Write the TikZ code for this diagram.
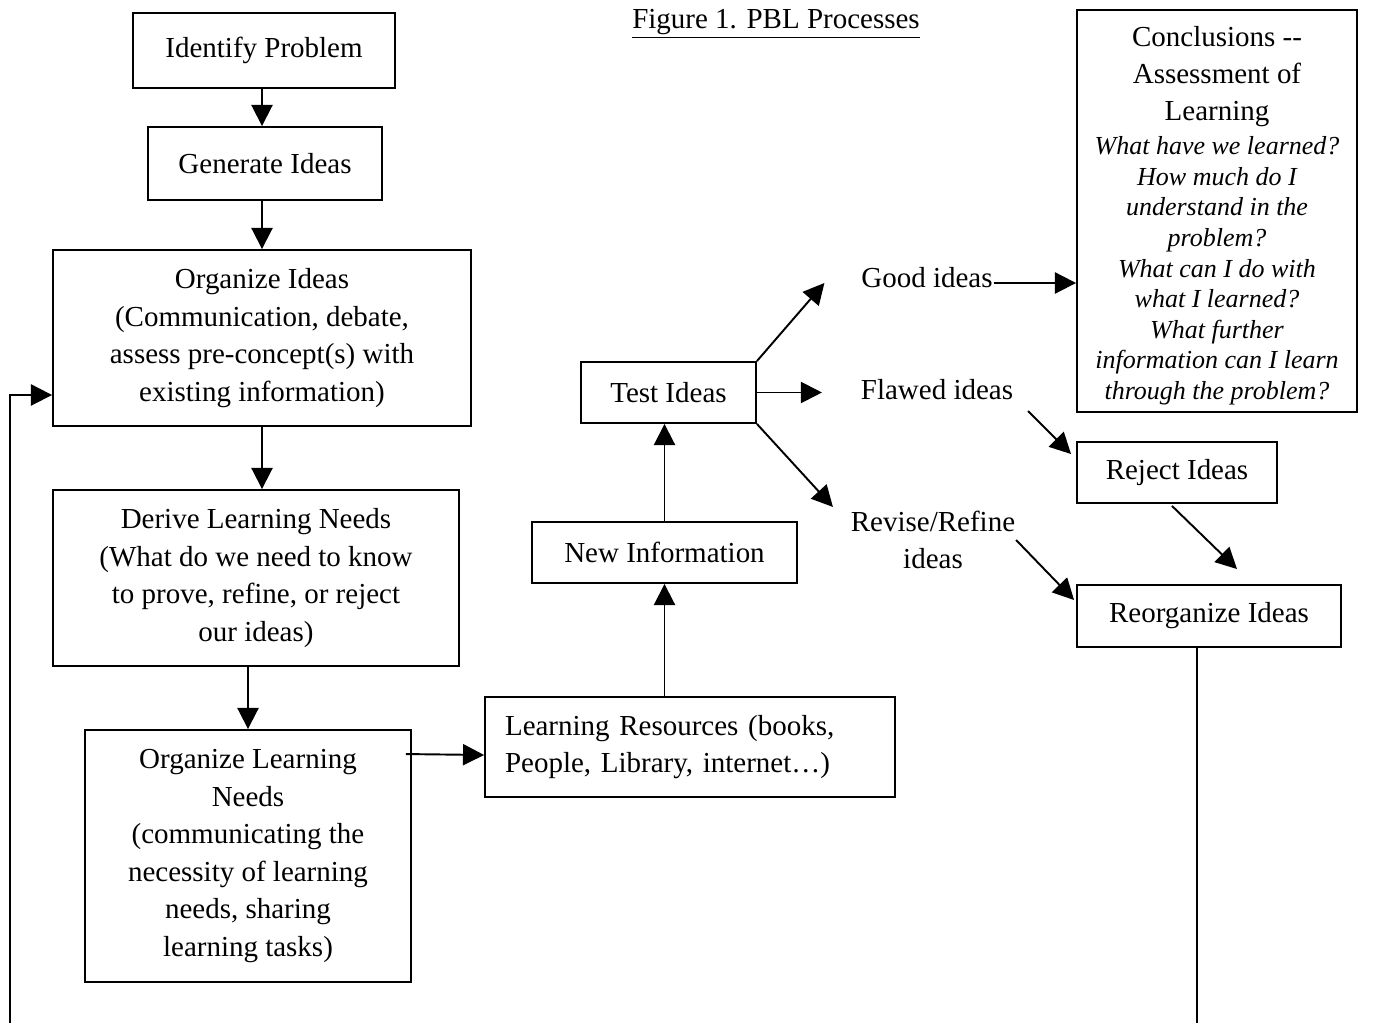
\documentclass[tikz,border=0pt]{standalone}
\usepackage{fontspec}
\setmainfont{Liberation Serif}
\usetikzlibrary{arrows.meta}
\newcommand\qline{\itshape\fontsize{14.8}{17.4}\selectfont}

\begin{document}
\begin{tikzpicture}[x=0.02cm,y=-0.02cm,line width=1.1pt,
  box/.style={draw,line width=1.1pt,align=center,inner sep=0pt,font=\fontsize{16.5}{21.3}\selectfont},
  lbl/.style={align=center,inner sep=0pt,font=\fontsize{16.5}{21.3}\selectfont},
  arr/.style={-{Triangle[length=12pt,width=12pt]}}]
\useasboundingbox (0,0) rectangle (1373,1023);
%title
\node[lbl] (title) at (776,24) {\underline{Figure 1. PBL Processes}};
%left column
\node[box,minimum width=5.24cm,minimum height=1.5cm] (ident) at (264,50.5) {Identify Problem};
\node[box,minimum width=4.68cm,minimum height=1.46cm] (gen) at (265,163.5) {Generate Ideas};
\node[box,minimum width=8.36cm,minimum height=3.52cm] (orgideas) at (262,338)
  {Organize Ideas\\ (Communication, debate,\\ assess pre-concept(s) with\\ existing information)};
\node[box,minimum width=8.12cm,minimum height=3.52cm] (derive) at (256,578)
  {Derive Learning Needs\\ (What do we need to know\\ to prove, refine, or reject\\ our ideas)};
\node[box,minimum width=6.52cm,minimum height=5.04cm] (orgln) at (248,856)
  {Organize Learning\\ Needs\\ (communicating the\\ necessity of learning\\ needs, sharing\\ learning tasks)};
%middle column
\node[box,align=left,text width=7.4cm,inner xsep=0.4cm,minimum height=2cm] (res) at (690,747)
  {Learning Resources (books,\\ People, Library, internet\dots)};
\node[box,minimum width=5.3cm,minimum height=1.22cm] (newinfo) at (664.5,552.5) {New Information};
\node[box,minimum width=3.5cm,minimum height=1.22cm] (test) at (668.5,392.5) {Test Ideas};
\node[lbl] (good) at (927,278) {Good ideas};
\node[lbl] (flawed) at (937,390) {Flawed ideas};
\node[lbl] (revise) at (933,540) {Revise/Refine\\ ideas};
%right column
\node[box,minimum width=5.6cm,minimum height=8.04cm] (concl) at (1217,211)
  {\rule{0pt}{18.5pt}Conclusions -{}-\\ Assessment of\\ Learning\\[-2pt]
   {\qline\begin{tabular}[t]{@{}c@{}}What have we learned?\\ How much do I\\ understand in the\\ problem?\\
   What can I do with\\ what I learned?\\ What further\\
   information can I learn\\ through the problem?\end{tabular}}};
\node[box,minimum width=4cm,minimum height=1.22cm] (reject) at (1177,472.5) {Reject Ideas};
\node[box,minimum width=5.28cm,minimum height=1.24cm] (reorg) at (1209,616) {Reorganize Ideas};
\coordinate (lbot) at (10,1023);
\coordinate (rbot) at (1197,1023);
%arrows
\draw[arr] ([xshift=-0.04cm]ident.south) -- ([xshift=-0.04cm]ident.south |- gen.north);
\draw[arr] (gen.south -| orgideas.north) -- (orgideas.north);
\draw[arr] (orgideas.south) -- (orgideas.south |- derive.north);
\draw[arr] (orgln.north |- derive.south) -- (orgln.north);
\draw[arr] ([xshift=-0.12cm,yshift=-0.5cm]orgln.north east) -- ([yshift=-0.16cm]res.west);
\draw[arr] (newinfo.south |- res.north) -- (newinfo.south);
\draw[arr] (newinfo.north) -- (newinfo.north |- test.south);
\draw[arr] (test.north east) -- ([xshift=-0.72cm,yshift=-0.1cm]good.west);
\draw[arr] (test.east) -- ([xshift=-0.76cm]flawed.west |- test.east);
\draw[arr] (test.south east) -- ([xshift=-0.34cm,yshift=0.06cm]revise.north west);
\draw[arr] ([yshift=-0.1cm]good.east) -- ([yshift=-0.1cm]good.east -| concl.west);
\draw[arr] ([xshift=0.28cm,yshift=-0.2cm]flawed.south east) -- ([xshift=-0.1cm,yshift=-0.26cm]reject.north west);
\draw[arr] ([xshift=-0.1cm,yshift=-0.04cm]reject.south) -- ([xshift=0.56cm,yshift=0.3cm]reorg.north);
\draw[arr] (revise.east) -- ([xshift=-0.04cm,yshift=0.32cm]reorg.west);
\draw (reorg.south -| rbot) -- (rbot);
\draw[arr] (lbot) |- ([yshift=-1.14cm]orgideas.west);
\end{tikzpicture}
\end{document}
